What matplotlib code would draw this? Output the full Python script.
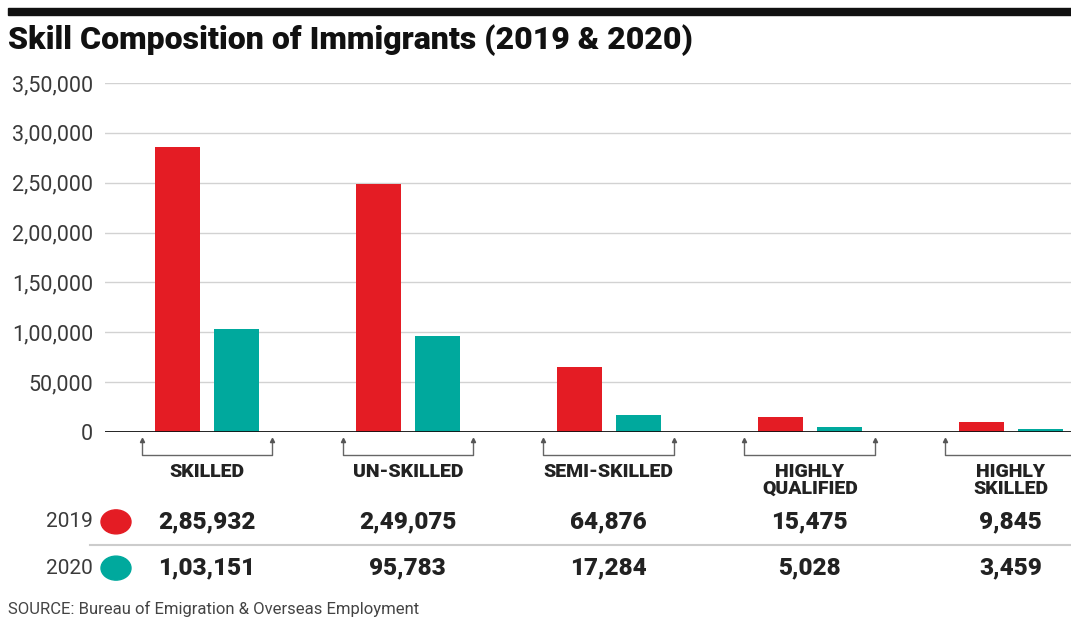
import matplotlib.pyplot as plt
import matplotlib.transforms as mtransforms
from matplotlib.patches import Rectangle, Ellipse

# chart data
categories = ["SKILLED", "UN-SKILLED", "SEMI-SKILLED", "HIGHLY\nQUALIFIED", "HIGHLY\nSKILLED"]
years = ["2019", "2020"]
values_2019 = [285932, 249075, 64876, 15475, 9845]
values_2020 = [103151, 95783, 17284, 5028, 3459]
y_ticks = [0, 50000, 100000, 150000, 200000, 250000, 300000, 350000]

RED = "#e41c24"
TEAL = "#00a99d"
GRAY_TXT = "#3a3a3a"

plt.rcParams["font.family"] = ["Roboto", "DejaVu Sans"]


def indian_fmt(n):
    # 285932 -> 2,85,932
    s = str(int(n))
    if len(s) <= 3:
        return s
    head, tail = s[:-3], s[-3:]
    parts = []
    while len(head) > 2:
        parts.insert(0, head[-2:])
        head = head[:-2]
    if head:
        parts.insert(0, head)
    return ",".join(parts) + "," + tail


fig = plt.figure(figsize=(10.71, 6.25), dpi=100)
ax = fig.add_axes([105 / 1071, 193 / 625, 1 - 105 / 1071, 349 / 625])

x = list(range(len(categories)))
bw = 0.224
off = 0.146
ax.bar([i - off for i in x], values_2019, width=bw, color=RED, zorder=3)
ax.bar([i + off for i in x], values_2020, width=bw, color=TEAL, zorder=3)

ax.set_xlim(-0.507, 4.30)
ax.set_ylim(0, 350000)
ax.set_yticks(y_ticks)
ax.set_yticklabels([indian_fmt(v) for v in y_ticks], fontsize=15.5, color=GRAY_TXT)
ax.tick_params(axis="y", length=0, pad=8.5)
ax.tick_params(axis="x", length=0, labelbottom=False)
ax.grid(axis="y", color="#d2d2d2", linewidth=1, zorder=0)
for s in ax.spines.values():
    s.set_visible(False)
ax.axhline(0, color="#111111", linewidth=2, zorder=4)

# brackets under each group
bt = ax.get_xaxis_transform()
for i, cat in enumerate(categories):
    l, r = i - 0.325, i + 0.325
    ax.plot([l, l, r, r], [-0.025, -0.066, -0.066, -0.025], color="#666666",
            linewidth=1, transform=bt, clip_on=False)
    ax.plot([l, r], [-0.022, -0.022], linestyle="none", marker="^", markersize=3,
            color="#555555", transform=bt, clip_on=False)
    ax.text(i, -0.088, cat, transform=bt, ha="center", va="top", fontsize=14,
            fontweight="black", color="#222222", linespacing=0.95)

# value table
tt = mtransforms.blended_transform_factory(ax.transData, fig.transFigure)
rows = [(values_2019, RED, 0.165), (values_2020, TEAL, 0.091)]
for (vals, col, yy), yr in zip(rows, years):
    fig.text(93 / 1071, yy, yr, ha="right", va="center", fontsize=15, color=GRAY_TXT)
    fig.patches.append(Ellipse((116 / 1071, yy), 30 / 1071, 24 / 625, color=col,
                               transform=fig.transFigure, figure=fig))
    for i, v in enumerate(vals):
        fig.text(i, yy, indian_fmt(v), transform=tt, ha="center", va="center",
                 fontsize=17.5, fontweight="black", color="#222222")
fig.add_artist(plt.Line2D([90 / 1071, 1], [0.128, 0.128], color="#cccccc",
                          linewidth=1.5, transform=fig.transFigure))

# header
fig.patches.append(Rectangle((8 / 1071, 1 - 15 / 625), 1, 7 / 625, color="#111111",
                             transform=fig.transFigure, figure=fig))
fig.text(8 / 1071, 0.936, "Skill Composition of Immigrants (2019 & 2020)", ha="left",
         va="center", fontsize=23, fontweight="black", color="#111111")
fig.text(8 / 1071, 0.026, "SOURCE: Bureau of Emigration & Overseas Employment",
         ha="left", va="center", fontsize=12, color="#444444")

fig.savefig("out.png", dpi=100, facecolor="white")
